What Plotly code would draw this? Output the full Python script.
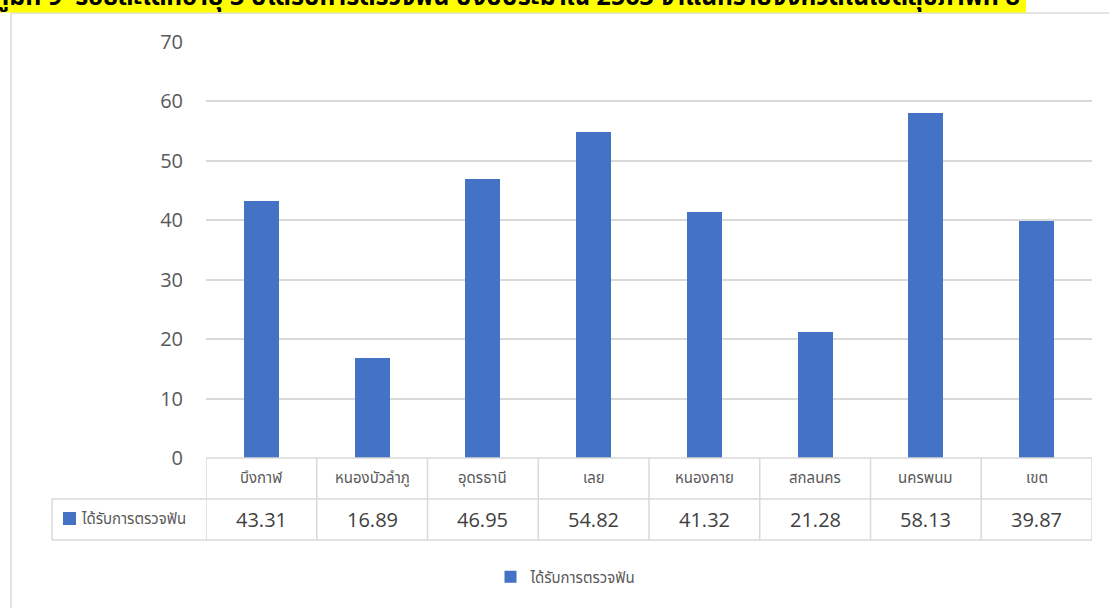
import plotly.graph_objects as go

# ---------------- data ----------------
categories = ["บึงกาฬ", "หนองบัวลำภู", "อุดรธานี", "เลย", "หนองคาย", "สกลนคร", "นครพนม", "เขต"]
values = [43.31, 16.89, 46.95, 54.82, 41.32, 21.28, 58.13, 39.87]
series_name = "ได้รับการตรวจฟัน"
y_ticks = [0, 10, 20, 30, 40, 50, 60, 70]
title_text = "แผนภูมิที่ 9  ร้อยละเด็กอายุ 3 ปีได้รับการตรวจฟัน ปีงบประมาณ 2563 จำแนกรายจังหวัดในเขตสุขภาพที่ 8"

# ---------------- style / layout ----------------
W, H = 1109, 608
L, R, T, B = 206, 17, 42, 150
PW, PH = W - L - R, H - T - B
BAR_COLOR = "#4472C4"
GRID = "#D9D9D9"
TXT = "#595959"
NUM = "#404040"
NUM_FONT = "Open Sans, Noto Sans, sans-serif"
THAI_FONT = "Noto Sans Thai, Tahoma, Leelawadee UI, Noto Sans, DejaVu Sans, sans-serif"


def px(xp):
    return (xp - L) / PW


def py(yp):
    return (H - B - yp) / PH


n = len(categories)
xs = list(range(n))

fig = go.Figure()
fig.add_trace(go.Bar(
    x=xs, y=values, name=series_name,
    marker=dict(color=BAR_COLOR, line=dict(width=0)),
    width=0.316, showlegend=True,
))

shapes = []
annotations = []

# chart frame (partially visible)
shapes.append(dict(type="line", xref="paper", yref="paper", x0=px(11), x1=px(W + 5),
                   y0=py(13), y1=py(13), line=dict(color=GRID, width=1.5), layer="below"))
shapes.append(dict(type="line", xref="paper", yref="paper", x0=px(11), x1=px(11),
                   y0=py(13), y1=py(H + 5), line=dict(color=GRID, width=1.5), layer="below"))

# yellow highlighted title (clipped by the top edge, as in the reference)
shapes.append(dict(type="rect", xref="paper", yref="paper", x0=px(-2), x1=px(1026),
                   y0=py(12.5), y1=py(-5), fillcolor="#FFFF00", line=dict(width=0), layer="below"))
annotations.append(dict(text="<b>" + title_text + "</b>", xref="paper", yref="paper",
                        x=px(1022), y=py(18), xanchor="right", yanchor="bottom",
                        showarrow=False, font=dict(family=THAI_FONT, size=25, color="#000000")))

# ---------------- data table ----------------
row_top, row_mid, row_bot = 458, 499, 540
hdr_left = 52
tline = dict(color=GRID, width=1.5)
# horizontal lines
shapes.append(dict(type="line", xref="x", yref="paper", x0=-0.5, x1=n - 0.5,
                   y0=py(row_top), y1=py(row_top), line=tline))
for yy in (row_mid, row_bot):
    shapes.append(dict(type="line", xref="paper", yref="paper", x0=px(hdr_left), x1=1,
                       y0=py(yy), y1=py(yy), line=tline))
# vertical lines
for i in range(n + 1):
    shapes.append(dict(type="line", xref="x", yref="paper", x0=i - 0.5, x1=i - 0.5,
                       y0=py(row_top), y1=py(row_bot), line=tline))
shapes.append(dict(type="line", xref="paper", yref="paper", x0=px(hdr_left), x1=px(hdr_left),
                   y0=py(row_mid), y1=py(row_bot), line=tline))

# category labels and values
for i, (c, v) in enumerate(zip(categories, values)):
    annotations.append(dict(text=c, xref="x", yref="paper", x=i, y=py((row_top + row_mid) / 2),
                            xanchor="center", yanchor="middle", showarrow=False,
                            font=dict(family=THAI_FONT, size=15, color=TXT)))
    annotations.append(dict(text=f"{v:.2f}", xref="x", yref="paper", x=i, y=py((row_mid + row_bot) / 2),
                            xanchor="center", yanchor="middle", showarrow=False,
                            font=dict(family=NUM_FONT, size=20, color=NUM)))

# row header: legend key + series name
shapes.append(dict(type="rect", xref="paper", yref="paper", x0=px(63), x1=px(76),
                   y0=py(512), y1=py(525), fillcolor=BAR_COLOR, line=dict(width=0)))
annotations.append(dict(text=series_name, xref="paper", yref="paper", x=px(79),
                        y=py((row_mid + row_bot) / 2), xanchor="left", yanchor="middle",
                        showarrow=False, font=dict(family=THAI_FONT, size=15, color=TXT)))

fig.update_layout(
    width=W, height=H,
    margin=dict(l=L, r=R, t=T, b=B, pad=0),
    paper_bgcolor="white", plot_bgcolor="white",
    bargap=0,
    xaxis=dict(range=[-0.5, n - 0.5], showticklabels=False, showgrid=False,
               zeroline=False, showline=False, ticks="", fixedrange=True),
    yaxis=dict(range=[0, 70], tickvals=y_ticks, showgrid=True, gridcolor=GRID, gridwidth=1.5,
               zeroline=False, showline=False, ticks="", ticklabelstandoff=22,
               tickfont=dict(family=NUM_FONT, size=20, color=TXT), fixedrange=True),
    legend=dict(orientation="h", x=px(566), y=py(577), xanchor="center", yanchor="middle",
                font=dict(family=THAI_FONT, size=15, color=TXT), bgcolor="rgba(0,0,0,0)"),
    shapes=shapes,
    annotations=annotations,
    showlegend=True,
)

fig.write_html("out.html")
